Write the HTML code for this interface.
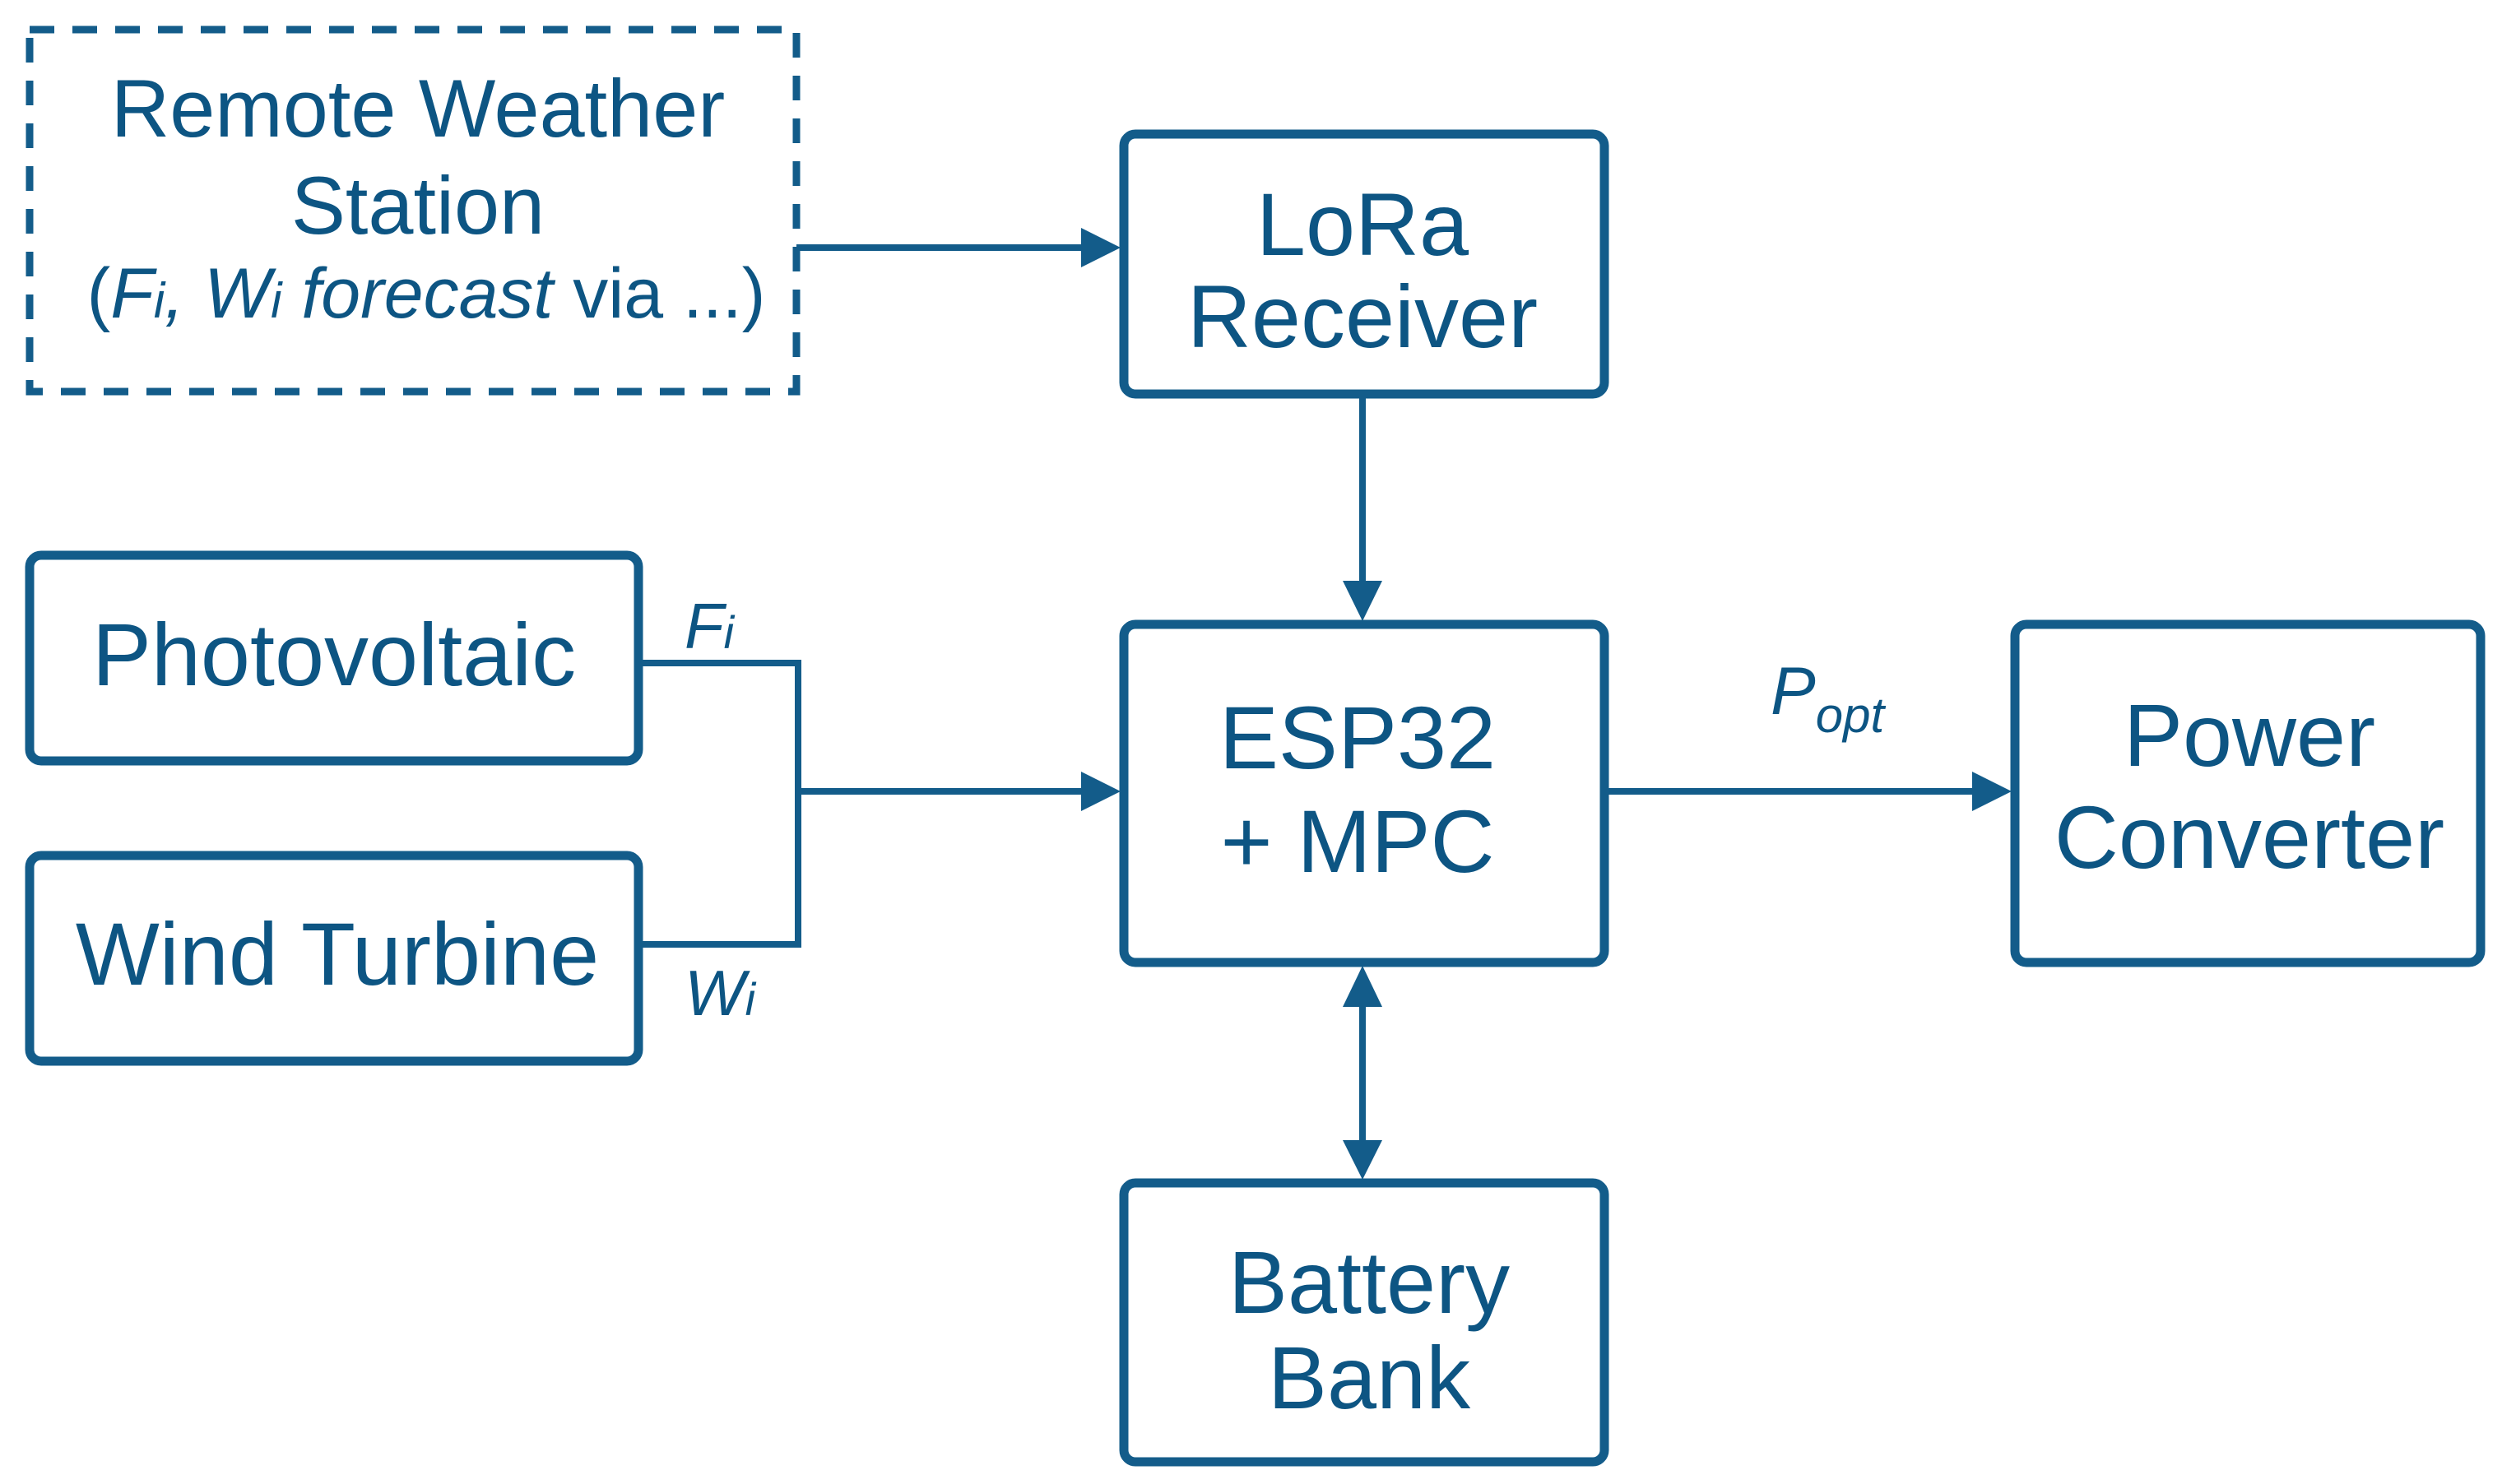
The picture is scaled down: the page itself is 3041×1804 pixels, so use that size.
<!DOCTYPE html>
<html><head><meta charset="utf-8"><style>
html,body{margin:0;padding:0;background:#fff;}
svg{display:block;}
text{font-family:"Liberation Sans",sans-serif;fill:#0d5583;}
</style></head><body>
<svg width="3041" height="1804" viewBox="0 0 3041 1804" xmlns="http://www.w3.org/2000/svg">
<g fill="none" stroke="#135c8a" stroke-width="11">
<rect x="36" y="36" width="932" height="440" stroke-dasharray="30,22" stroke-width="9"/>
<rect x="1366" y="163" width="584" height="316" rx="14"/>
<rect x="1366" y="759" width="584" height="411" rx="14"/>
<rect x="2449" y="759" width="566" height="411" rx="14"/>
<rect x="1366" y="1438" width="584" height="339" rx="14"/>
<rect x="36" y="675" width="740" height="250" rx="14"/>
<rect x="36" y="1040" width="740" height="250" rx="14"/>
</g>
<g stroke="#135c8a" stroke-width="8" fill="none">
<line x1="968" y1="301" x2="1318" y2="301"/>
<line x1="1656" y1="481" x2="1656" y2="712"/>
<polyline points="778,806 970,806 970,1148 778,1148"/>
<line x1="970" y1="962" x2="1318" y2="962"/>
<line x1="1952" y1="962" x2="2400" y2="962"/>
<line x1="1656" y1="1222" x2="1656" y2="1390"/>
</g>
<g fill="#135c8a">
<polygon points="1362,301 1314,277 1314,325"/>
<polygon points="1656,755 1632,706 1680,706"/>
<polygon points="1362,962 1314,938 1314,986"/>
<polygon points="2445,962 2397,938 2397,986"/>
<polygon points="1656,1174 1632,1224 1680,1224"/>
<polygon points="1656,1434 1632,1386 1680,1386"/>
</g>
<g text-anchor="middle" font-size="99">
<text x="508" y="166">Remote Weather</text>
<text x="508" y="284">Station</text>
<text x="518" y="386" font-size="86"><tspan>(</tspan><tspan font-style="italic">F</tspan><tspan font-style="italic" font-size="60">i</tspan><tspan font-style="italic">, W</tspan><tspan font-style="italic" font-size="60">i</tspan><tspan font-style="italic"> forecast</tspan> via ...)</text>
</g>
<g text-anchor="middle" font-size="108">
<text x="1656" y="310">LoRa</text>
<text x="1656" y="422">Receiver</text>
<text x="1650" y="934">ESP32</text>
<text x="1650" y="1060">+ MPC</text>
<text x="2734" y="931">Power</text>
<text x="2734" y="1055">Converter</text>
<text x="1664" y="1596">Battery</text>
<text x="1664" y="1712">Bank</text>
<text x="406" y="833">Photovoltaic</text>
<text x="410" y="1197">Wind Turbine</text>
</g>
<g font-style="italic">
<text x="832" y="788" font-size="78">F<tspan font-size="56">i</tspan></text>
<text x="832" y="1234" font-size="78">W<tspan font-size="56">i</tspan></text>
<text x="2152" y="868" font-size="82">P<tspan font-size="60" dy="22">opt</tspan></text>
</g>
</svg>
</body></html>
